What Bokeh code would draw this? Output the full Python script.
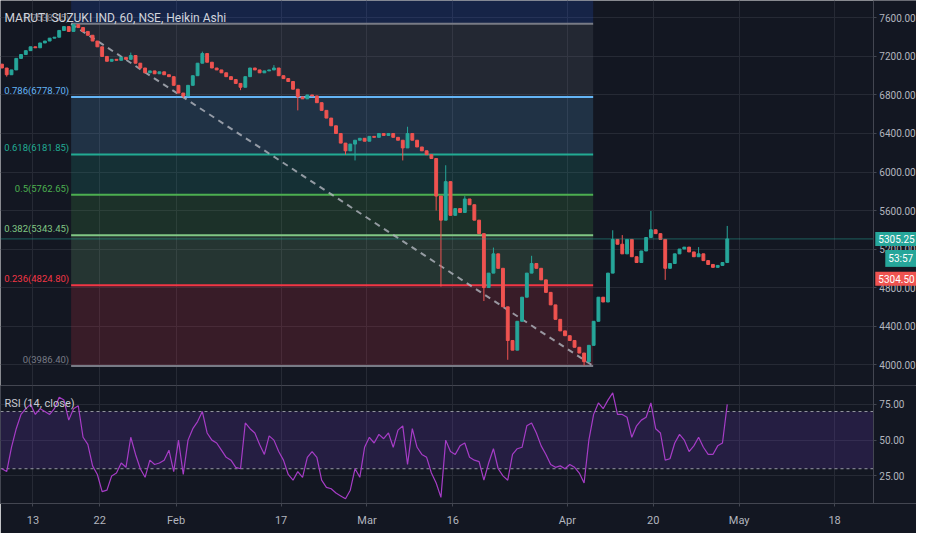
from bokeh.plotting import figure
from bokeh.models import (Range1d, FixedTicker, Label, BoxAnnotation,
                          PrintfTickFormatter, Grid)
from bokeh.layouts import column
from bokeh.embed import file_html
from bokeh.resources import INLINE
from bokeh.core.properties import value

# ---------------- data ----------------
close = [
    7080, 7010, 7060, 7180, 7220, 7260, 7300, 7290, 7340, 7360,
    7390, 7400, 7470, 7510, 7460, 7530, 7500, 7460, 7420, 7360,
    7300, 7200, 7150, 7170, 7160, 7190, 7170, 7210, 7130, 7080,
    7030, 7050, 7020, 7040, 7010, 6990, 6900, 6820, 6790, 6900,
    7000, 7130, 7230, 7140, 7080, 7060, 7030, 6990, 6960, 6920,
    6880, 6990, 7080, 7060, 7030, 7050, 7060, 7080, 7000, 6970,
    6940, 6860, 6780, 6760, 6800, 6790, 6720, 6640, 6560, 6480,
    6400, 6300, 6220, 6290, 6330, 6350, 6320, 6370, 6360, 6400,
    6380, 6400, 6360, 6330, 6250, 6400, 6330, 6260, 6220, 6180,
    6140, 5750, 5500, 5900, 5550, 5620, 5580, 5720, 5660, 5500,
    5360, 4800, 4950, 5150, 5000, 4600, 4250, 4150, 4450, 4700,
    4950, 5050, 5000, 4880, 4750, 4620, 4470, 4350, 4300, 4250,
    4180, 4120, 4030, 4200, 4450, 4700, 4650, 4950, 5300, 5250,
    5150, 5300, 5120, 5060, 5180, 5320, 5400, 5360, 5300, 5000,
    5050, 5150, 5200, 5220, 5170, 5120, 5150, 5080, 5040, 5010,
    5030, 5060, 5305.25,
]
first_open = 7120
high_ext = {15: 7539, 27: 7240, 42: 7250, 57: 7110, 85: 6470, 93: 6070,
            97: 5750, 103: 5215, 111: 5130, 128: 5395, 130: 5345,
            136: 5595, 146: 5220, 152: 5440}
low_ext = {1: 6990, 38: 6770, 50: 6850, 62: 6640, 72: 6180, 74: 6120,
           84: 6120, 91: 5600, 92: 4810, 101: 4660, 106: 4050, 122: 3990,
           139: 4880}

rsi = [
    30, 28, 45, 58, 68, 72, 75, 68, 72, 70,
    68, 72, 80, 78, 64, 72, 74, 52, 47, 32,
    26, 14, 15, 25, 27, 34, 31, 52, 40, 30,
    24, 36, 33, 34, 36, 43, 28, 50, 26, 50,
    58, 63, 70, 55, 50, 48, 43, 38, 36, 31,
    30, 62, 58, 55, 47, 40, 53, 50, 42, 36,
    26, 22, 28, 24, 38, 42, 38, 22, 17, 16,
    13, 11, 9, 15, 30, 24, 45, 52, 48, 54,
    51, 55, 45, 57, 60, 33, 58, 45, 40, 38,
    27, 20, 10, 50, 42, 40, 46, 48, 38, 36,
    35, 22, 34, 44, 30, 25, 22, 40, 44, 45,
    60, 62, 55, 46, 40, 33, 31, 32, 30, 33,
    31, 27, 20, 50, 68, 76, 72, 78, 83, 68,
    68, 66, 52, 60, 64, 66, 76, 58, 55, 36,
    37, 48, 54, 50, 42, 46, 52, 45, 40, 40,
    46, 48, 75,
]

tick_days = [0, 7, 15, 26, 35, 44, 56, 65, 74, 84]
tick_labels = ["13", "22", "Feb", "17", "Mar", "16", "Apr", "20", "May", "18"]
price_ticks = [4000, 4400, 4800, 5200, 5600, 6000, 6400, 6800, 7200, 7600]
rsi_ticks = [25, 50, 75]
rsi_bands = [30, 70]

fib_levels = ["0", "0.236", "0.382", "0.5", "0.618", "0.786", "1"]
fib_prices = [3986.40, 4824.80, 5343.45, 5762.65, 6181.85, 6778.70, 7538.95]
fib_colors = ["#787b86", "#f23645", "#81c784", "#4caf50", "#22ab94", "#64b5f6", "#787b86"]
fib_above_color = "#2962ff"
fib_x0, fib_x1 = 4.0, 58.7

last_price = 5305.25
other_price = 5304.50
countdown = "53:57"
title = "MARUTI SUZUKI IND, 60, NSE, Heikin Ashi"

# ---------------- styling ----------------
BG = "#131722"
GRID = "#262a35"
AXIS = "#434651"
TXT = "#b2b5be"
UP, DOWN = "#26a69a", "#ef5350"
FONT = "Roboto"
W = 916
AXIS_X = 88.05          # x position (days) where the price scale sits
X0, X1 = -3.40, 92.58

n = len(close)
t = [-3.25 + 0.5 * i for i in range(n)]
opens = [first_open] + close[:-1]
tops = [max(o, c) for o, c in zip(opens, close)]
bots = [min(o, c) for o, c in zip(opens, close)]
highs = [high_ext.get(i, tops[i]) for i in range(n)]
lows = [low_ext.get(i, bots[i]) for i in range(n)]
cols = [UP if c >= o else DOWN for o, c in zip(opens, close)]

xr = Range1d(X0, X1)


def style(p):
    p.background_fill_color = BG
    p.border_fill_color = BG
    p.min_border_left = 0
    p.min_border_right = 0
    p.min_border_top = 0
    p.yaxis.fixed_location = AXIS_X
    for ax in p.yaxis:
        ax.axis_line_color = AXIS
        ax.major_tick_line_color = AXIS
        ax.major_tick_out = 3
        ax.major_tick_in = 0
        ax.minor_tick_line_color = None
        ax.major_label_text_color = TXT
        ax.major_label_text_font_size = "10px"
        ax.major_label_text_font = FONT
        ax.major_label_standoff = 3
    for g in p.ygrid:
        g.grid_line_color = GRID
    p.add_layout(Grid(dimension=0, ticker=FixedTicker(ticks=tick_days),
                      grid_line_color=GRID))
    # keep the grid out of the price-scale strip
    p.add_layout(BoxAnnotation(left=AXIS_X, fill_color=BG, fill_alpha=1,
                               line_color=None, level="underlay"))


# ---------------- main pane ----------------
p1 = figure(x_range=xr, y_range=Range1d(3783, 7781), frame_width=W,
            frame_height=385, output_backend="svg", toolbar_location=None,
            y_axis_location="right", x_axis_location=None)
for g in p1.xgrid:
    g.visible = False
p1.yaxis.ticker = FixedTicker(ticks=price_ticks)
p1.yaxis.formatter = PrintfTickFormatter(format="%.2f")
style(p1)
p1.min_border_bottom = 0
p1.outline_line_color = None

# fib bands
band_b = fib_prices[:-1] + [fib_prices[-1]]
band_t = fib_prices[1:] + [7781]
band_c = fib_colors[1:] + [fib_above_color]
p1.quad(left=fib_x0, right=fib_x1, bottom=band_b, top=band_t,
        fill_color=band_c, fill_alpha=0.17, line_color=None)
p1.segment(x0=fib_x0, x1=fib_x1, y0=fib_prices, y1=fib_prices,
           line_color=fib_colors, line_width=2)
p1.text(x=[fib_x0] * len(fib_prices), y=fib_prices,
        text=[f"{l}({v:.2f})" for l, v in zip(fib_levels, fib_prices)],
        text_color=fib_colors, text_align="right", text_baseline="bottom",
        x_offset=-2, y_offset=-1, text_font_size="9.5px", text_font=value(FONT))
p1.line([fib_x0, fib_x1], [fib_prices[-1], fib_prices[0]], line_color="#b2b5be",
        line_alpha=0.8, line_width=2, line_dash="6 5")

# candles
p1.segment(x0=t, x1=t, y0=lows, y1=highs, line_color=cols, line_width=1)
p1.vbar(x=t, width=0.3, top=tops, bottom=bots, fill_color=cols, line_color=cols)

p1.segment(x0=[X0], x1=[AXIS_X], y0=[last_price], y1=[last_price],
           line_color=UP, line_alpha=0.5, line_width=1)
p1.add_layout(Label(x=4, y=368, x_units="screen", y_units="screen", text=title,
                    text_color="#d1d4dc", text_font_size="12px",
                    text_font=FONT, text_baseline="middle"))
lab = dict(text_color="white", text_font_size="10px", text_font=FONT,
           text_baseline="middle", padding=3)
p1.add_layout(Label(x=AXIS_X, y=last_price, text=f"{last_price:.2f}",
                    background_fill_color=UP, x_offset=2, **lab))
p1.add_layout(Label(x=AXIS_X, y=5103, text=countdown,
                    background_fill_color=UP, x_offset=12, **lab))
p1.add_layout(Label(x=AXIS_X, y=4891, text=f"{other_price:.2f}",
                    background_fill_color=DOWN, x_offset=2, **lab))

# ---------------- RSI pane ----------------
p2 = figure(x_range=xr, y_range=Range1d(5.7, 88.2), frame_width=W,
            frame_height=118, output_backend="svg", toolbar_location=None,
            y_axis_location="right")
for g in p2.xgrid:
    g.visible = False
p2.yaxis.ticker = FixedTicker(ticks=rsi_ticks)
p2.yaxis.formatter = PrintfTickFormatter(format="%.2f")
style(p2)
p2.min_border_bottom = 30
p2.outline_line_color = AXIS
p2.xaxis.ticker = FixedTicker(ticks=tick_days)
p2.xaxis.major_label_overrides = dict(zip(tick_days, tick_labels))
for ax in p2.xaxis:
    ax.axis_line_color = AXIS
    ax.major_tick_line_color = AXIS
    ax.major_tick_out = 3
    ax.major_tick_in = 0
    ax.minor_tick_line_color = None
    ax.major_label_text_color = TXT
    ax.major_label_text_font_size = "11px"
    ax.major_label_text_font = FONT
    ax.major_label_standoff = 7

p2.add_layout(BoxAnnotation(left=X0, right=AXIS_X, bottom=rsi_bands[0],
                            top=rsi_bands[1], fill_color="#673ab7",
                            fill_alpha=0.22, line_color=None, level="underlay"))
p2.segment(x0=[X0, X0], x1=[AXIS_X, AXIS_X], y0=rsi_bands, y1=rsi_bands,
           line_color="#9598a1", line_dash="3 3", line_width=1)
p2.line(t, rsi, line_color="#a63cc6", line_width=1.2)
p2.add_layout(Label(x=4, y=100, x_units="screen", y_units="screen",
                    text="RSI (14, close)", text_color="#c8cad2",
                    text_font_size="11px", text_font=FONT, text_baseline="middle"))

layout = column(p1, p2, spacing=0)
open("out.html", "w").write(file_html(layout, INLINE))
